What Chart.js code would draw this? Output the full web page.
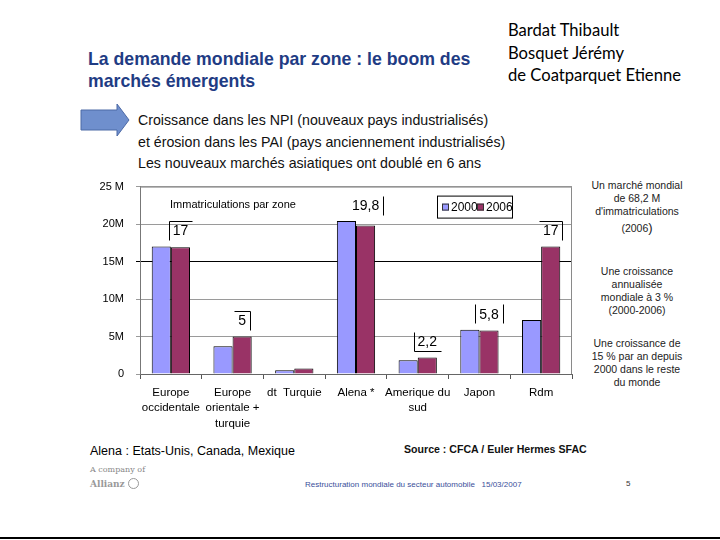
<!DOCTYPE html>
<html>
<head>
<meta charset="utf-8">
<script src="https://cdn.jsdelivr.net/npm/chart.js@4"></script>
<style>
  body { margin: 0; background: #fff; }
  #page { position: relative; width: 720px; height: 540px; overflow: hidden; font-family: "Liberation Sans", Arial, sans-serif; }
  .abs { position: absolute; white-space: nowrap; }
  #title { left: 88px; top: 48px; font-size: 17.7px; font-weight: bold; color: #1f3c84; line-height: 22px; }
  #authors { left: 508px; top: 19px; font-family: Lato, "Open Sans", sans-serif; font-size: 16.6px; line-height: 22.5px; color: #000; }
  #bullets { left: 138px; top: 110px; font-size: 14.2px; line-height: 21.5px; color: #111; }
  .side { width: 110px; left: 582px; text-align: center; font-size: 10.5px; line-height: 13px; color: #222; }
  #chartBox { position: absolute; left: 80px; top: 168px; width: 500px; height: 266px; }
  #bottomLine { position: absolute; left: 0; top: 537px; width: 720px; height: 2px; background: #000; }
</style>
</head>
<body>
<div id="page">
  <div class="abs" id="title">La demande mondiale par zone : le boom des<br>marchés émergents</div>
  <div class="abs" id="authors">Bardat Thibault<br>Bosquet Jérémy<br>de Coatparquet Etienne</div>
  <svg class="abs" style="left:78px;top:102px" width="56" height="36">
    <polygon points="3,8 39,8 39,2 51,18 39,34 39,28 3,28" fill="#6f8fcd" stroke="#4d6aa6" stroke-width="1"/>
  </svg>
  <div class="abs" id="bullets">Croissance dans les NPI (nouveaux pays industrialisés)<br>et érosion dans les PAI (pays anciennement industrialisés)<br>Les nouveaux marchés asiatiques ont doublé en 6 ans</div>
  <div class="abs side" style="top:179px">Un marché mondial<br>de 68,2 M<br>d'immatriculations<br><span style="line-height:19px">(2006<span style="font-size:13px">)</span></span></div>
  <div class="abs side" style="top:265px">Une croissance<br>annualisée<br>mondiale à 3 %<br>(2000-2006)</div>
  <div class="abs side" style="top:337px">Une croissance de<br>15 % par an depuis<br>2000 dans le reste<br>du monde</div>
  <div id="chartBox"><canvas id="chart"></canvas></div>
  <div class="abs" style="left:90px;top:444px;font-size:12.5px;color:#000">Alena : Etats-Unis, Canada, Mexique</div>
  <div class="abs" style="left:404px;top:443px;font-size:10.6px;font-weight:bold;color:#111">Source : CFCA / Euler Hermes SFAC</div>
  <div class="abs" style="left:90px;top:465px;font-size:8px;font-family:'DejaVu Serif',serif;color:#888">A company of</div>
  <div class="abs" style="left:90px;top:478px;font-size:9px;font-family:'DejaVu Serif',serif;font-weight:bold;color:#999">Allianz <span style="display:inline-block;width:9px;height:9px;border:1px solid #999;border-radius:50%;vertical-align:-2px"></span></div>
  <div class="abs" style="left:305px;top:480px;font-size:8px;color:#3a4f9a">Restructuration mondiale du secteur automobile &nbsp; 15/03/2007</div>
  <div class="abs" style="left:626px;top:479px;font-size:8px;color:#333">5</div>
  <div id="bottomLine"></div>
</div>
<script>
// === DATA ===
const zones = [["Europe", "occidentale"], ["Europe", "orientale +", "turquie"], "dt  Turquie", "Alena *", ["Amerique du", "sud"], "Japon", "Rdm"];
const immat2000 = [17, 3.7, 0.5, 20.4, 1.85, 5.9, 7.2];
const immat2006 = [16.9, 5, 0.75, 19.8, 2.2, 5.8, 17];
const calloutLabels = ["17", "5", null, "19,8", "2,2", "5,8", "17"];
const yTickLabels = ["0", "5M", "10M", "15M", "20M", "25 M"];
const chartTitle = "Immatriculations par zone";

// which sides of the little label box are drawn
const calloutSides = [["top", "left"], ["top", "right"], [], ["right"], ["left", "bottom"], ["left", "right"], ["top", "right"]];

const FONT = "'Liberation Sans', Arial, sans-serif";

const slidePlugin = {
  id: "slideExtras",
  afterDraw(chart) {
    const { ctx, chartArea: a, scales } = chart;
    ctx.save();
    // frame right/top
    ctx.strokeStyle = "#8a8a8a";
    ctx.lineWidth = 1;
    ctx.beginPath();
    ctx.moveTo(a.left, a.top + 0.5);
    ctx.lineTo(a.right - 0.5, a.top + 0.5);
    ctx.lineTo(a.right - 0.5, a.bottom);
    ctx.stroke();

    // title inside plot
    ctx.fillStyle = "#000";
    ctx.font = "11px " + FONT;
    ctx.textBaseline = "middle";
    ctx.textAlign = "left";
    ctx.fillText(chartTitle, a.left + 30, a.top + 18);

    // legend box
    const lx = a.left + 297, ly = a.top + 9;
    ctx.strokeStyle = "#000";
    ctx.strokeRect(lx + 0.5, ly + 0.5, 75, 22);
    ctx.font = "12px " + FONT;
    let x = lx + 5;
    chart.data.datasets.forEach(ds => {
      ctx.fillStyle = ds.backgroundColor;
      ctx.fillRect(x, ly + 8, 7, 7);
      ctx.strokeStyle = "#333";
      ctx.strokeRect(x + 0.5, ly + 8.5, 6, 6);
      ctx.fillStyle = "#000";
      ctx.fillText(ds.label, x + 9, ly + 12);
      x += 35;
    });

    // callouts
    const meta = chart.getDatasetMeta(1);
    ctx.font = "14px " + FONT;
    ctx.textAlign = "center";
    calloutLabels.forEach((txt, i) => {
      if (!txt) return;
      const cx = meta.data[i].x;
      const cy = scales.y.getPixelForValue(Math.max(immat2000[i], immat2006[i])) - 16;
      ctx.fillStyle = "#000";
      ctx.fillText(txt, cx, cy + 1);
      const hw = ctx.measureText(txt).width / 2 + 4, hh = 9.5;
      const L = Math.round(cx - hw) + 0.5, R = Math.round(cx + hw) + 0.5;
      const T = Math.round(cy - hh) + 0.5, B = Math.round(cy + hh) + 0.5;
      ctx.strokeStyle = "#000";
      ctx.beginPath();
      calloutSides[i].forEach(s => {
        if (s === "top") { ctx.moveTo(L, T); ctx.lineTo(R, T); }
        if (s === "bottom") { ctx.moveTo(L, B); ctx.lineTo(R, B); }
        if (s === "left") { ctx.moveTo(L, T); ctx.lineTo(L, B); }
        if (s === "right") { ctx.moveTo(R, T); ctx.lineTo(R, B); }
      });
      ctx.stroke();
    });
    ctx.restore();
  }
};

new Chart(document.getElementById("chart"), {
  type: "bar",
  data: {
    labels: zones,
    datasets: [
      { label: "2000", data: immat2000, backgroundColor: "#9999ff", borderColor: "#000", borderWidth: 1 },
      { label: "2006", data: immat2006, backgroundColor: "#993366", borderColor: "#000", borderWidth: 1 }
    ]
  },
  options: {
    responsive: true,
    maintainAspectRatio: false,
    animation: false,
    layout: { padding: { top: 3, right: 8, left: 0, bottom: 0 } },
    datasets: { bar: { categoryPercentage: 0.62, barPercentage: 1.0 } },
    plugins: { legend: { display: false }, tooltip: { enabled: false } },
    scales: {
      x: {
        afterFit: s => { s.height = 60; },
        grid: { offset: true, drawOnChartArea: false, color: "#555", tickLength: 5 },
        border: { color: "#666" },
        ticks: { color: "#000", font: { family: FONT, size: 11.5, lineHeight: 1.35 }, maxRotation: 0, autoSkip: false, padding: 6 }
      },
      y: {
        min: 0, max: 25,
        afterFit: s => { s.width = 60; },
        grid: {
          color: c => c.tick && c.tick.value === 15 ? "#000" : "#9a9a9a",
          tickLength: 4
        },
        border: { color: "#777" },
        ticks: {
          stepSize: 5,
          color: "#000",
          font: { family: FONT, size: 11 },
          padding: 12,
          callback: (v, i) => yTickLabels[i]
        }
      }
    }
  },
  plugins: [slidePlugin]
});
</script>
</body>
</html>
